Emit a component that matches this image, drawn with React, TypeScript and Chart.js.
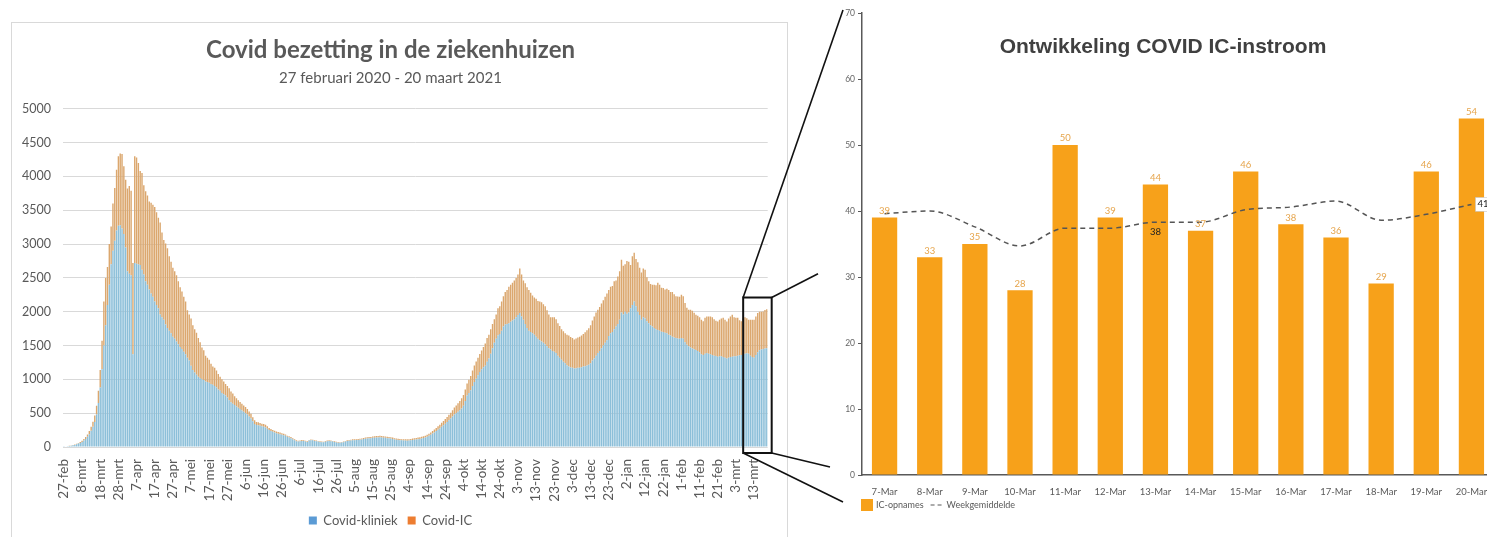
import React, { useEffect, useRef } from 'react';
import { Chart, registerables } from 'chart.js';
Chart.register(...registerables);

// ---------- Left chart: Covid bezetting ----------
const MONTHS_NL = ['jan', 'feb', 'mrt', 'apr', 'mei', 'jun', 'jul', 'aug', 'sep', 'okt', 'nov', 'dec'];
const START_DATE = Date.UTC(2020, 1, 27);
const DAY_COUNT = 388;
const dayLabels: string[] = [];
for (let i = 0; i < DAY_COUNT; i++) {
  const d = new Date(START_DATE + i * 86400000);
  dayLabels.push(`${d.getUTCDate()}-${MONTHS_NL[d.getUTCMonth()]}`);
}

const kliniek = [
  5, 8, 10, 15, 18, 25, 30, 40, 50, 60,
  75, 95, 120, 150, 190, 240, 300, 370, 480, 650,
  880, 1150, 1500, 1800, 2100, 2400, 2700, 2900, 3050, 3200,
  3270, 3280, 3230, 3150, 2950, 2600, 2560, 2540, 1370, 2720,
  2710, 2700, 2690, 2620, 2550, 2450, 2400, 2330, 2270, 2220,
  2150, 2100, 2050, 1960, 1920, 1880, 1810, 1760, 1720, 1680,
  1630, 1600, 1560, 1520, 1480, 1450, 1410, 1370, 1320, 1280,
  1200, 1140, 1100, 1070, 1040, 1020, 1000, 990, 970, 960,
  950, 930, 920, 900, 880, 850, 830, 800, 780, 760,
  730, 690, 660, 640, 620, 600, 580, 560, 540, 520,
  500, 480, 450, 420, 380, 340, 325, 320, 315, 305,
  300, 290, 270, 250, 235, 225, 215, 205, 195, 190,
  180, 175, 165, 150, 140, 130, 115, 100, 85, 80,
  85, 90, 88, 80, 75, 95, 100, 98, 90, 85,
  80, 75, 72, 70, 78, 85, 88, 86, 80, 75,
  68, 64, 62, 66, 72, 80, 88, 92, 96, 100,
  100, 102, 105, 108, 112, 118, 122, 126, 128, 130,
  135, 138, 140, 142, 143, 140, 138, 135, 130, 128,
  125, 120, 112, 106, 104, 100, 98, 96, 95, 94,
  96, 100, 104, 108, 112, 116, 120, 126, 132, 140,
  150, 165, 180, 200, 215, 235, 255, 275, 300, 320,
  345, 370, 395, 420, 450, 480, 500, 520, 545, 570,
  610, 680, 760, 800, 840, 900, 960, 1010, 1060, 1110,
  1150, 1180, 1200, 1260, 1310, 1380, 1460, 1540, 1600, 1650,
  1670, 1720, 1780, 1810, 1820, 1830, 1850, 1870, 1890, 1920,
  1950, 1980, 1930, 1880, 1820, 1760, 1720, 1700, 1680, 1660,
  1630, 1600, 1580, 1560, 1540, 1520, 1490, 1460, 1440, 1420,
  1410, 1390, 1350, 1320, 1290, 1260, 1240, 1210, 1190, 1175,
  1170, 1160, 1165, 1170, 1170, 1180, 1190, 1195, 1205, 1215,
  1240, 1280, 1310, 1350, 1390, 1420, 1460, 1500, 1540, 1580,
  1640, 1680, 1700, 1740, 1780, 1820, 1880, 1990, 1960, 2000,
  1970, 1990, 2050, 2100, 2150, 2080, 2000, 1950, 1880, 1920,
  1900, 1860, 1830, 1800, 1780, 1760, 1740, 1730, 1720, 1705,
  1700, 1690, 1680, 1660, 1650, 1630, 1620, 1610, 1605, 1600,
  1610, 1600, 1550, 1510, 1490, 1470, 1455, 1445, 1435, 1420,
  1400, 1370, 1360, 1380, 1390, 1380, 1370, 1360, 1350, 1345,
  1335, 1340, 1340, 1330, 1320, 1310, 1320, 1330, 1335, 1340,
  1340, 1350, 1355, 1360, 1370, 1380, 1385, 1380, 1350, 1330,
  1320, 1360, 1400, 1430, 1440, 1450, 1455, 1460,
];

const covidIC = [
  0, 0, 1, 2, 3, 4, 6, 8, 10, 14,
  18, 22, 28, 36, 45, 58, 75, 95, 130, 180,
  260, 420, 650, 700, 560, 600, 560, 700, 780, 900,
  1030, 1060, 1100, 1000, 1000, 1220, 1300, 1250, 1350, 1580,
  1570, 1500, 1390, 1430, 1320, 1330, 1320, 1300, 1340, 1360,
  1400, 1370, 1340, 1360, 1250, 1180, 1200, 1180, 1100, 1060,
  1020, 1000, 980, 930, 880, 850, 810, 780, 700, 680,
  700, 660, 640, 620, 570, 530, 470, 440, 380, 360,
  340, 300, 270, 270, 250, 230, 210, 200, 190, 170,
  170, 180, 160, 150, 130, 120, 110, 105, 100, 95,
  90, 80, 75, 70, 60, 55, 45, 45, 40, 40,
  40, 38, 35, 30, 30, 28, 27, 25, 25, 24,
  22, 20, 20, 18, 18, 16, 15, 14, 13, 12,
  12, 12, 11, 11, 10, 10, 11, 11, 10, 10,
  10, 10, 9, 9, 9, 10, 10, 10, 9, 9,
  9, 9, 9, 9, 10, 10, 11, 12, 12, 13,
  13, 14, 14, 15, 15, 16, 17, 18, 18, 19,
  20, 21, 22, 22, 23, 22, 22, 21, 20, 20,
  20, 19, 19, 18, 18, 18, 18, 18, 18, 19,
  19, 20, 20, 21, 22, 23, 24, 25, 26, 28,
  30, 32, 35, 38, 42, 45, 50, 55, 60, 65,
  70, 75, 80, 88, 95, 105, 115, 125, 135, 150,
  160, 170, 180, 195, 210, 230, 245, 255, 260, 265,
  275, 300, 330, 350, 350, 360, 360, 350, 360, 400,
  410, 430, 450, 480, 500, 540, 550, 560, 570, 580,
  600, 660, 620, 580, 600, 600, 600, 580, 560, 550,
  560, 560, 570, 580, 570, 560, 530, 500, 480, 500,
  510, 500, 480, 470, 450, 450, 440, 450, 460, 450,
  440, 430, 440, 450, 460, 470, 480, 500, 520, 540,
  560, 590, 620, 640, 640, 650, 660, 670, 680, 690,
  680, 690, 680, 710, 680, 700, 720, 780, 720, 700,
  780, 750, 640, 720, 720, 700, 730, 700, 700, 720,
  720, 650, 620, 610, 620, 640, 650, 700, 680, 650,
  650, 640, 660, 660, 640, 660, 640, 620, 620, 620,
  640, 630, 580, 550, 540, 560, 560, 540, 520, 520,
  520, 510, 500, 530, 540, 550, 560, 560, 540, 520,
  520, 540, 560, 580, 560, 545, 580, 600, 620, 580,
  570, 560, 520, 500, 530, 540, 520, 500, 530, 550,
  560, 570, 580, 570, 560, 555, 570, 575,
];

const leftTitle = 'Covid bezetting in de ziekenhuizen';
const leftSubtitle = '27 februari 2020 - 20 maart 2021';
const leftSeriesNames = ['Covid-kliniek', 'Covid-IC'];

// ---------- Right chart: IC-instroom ----------
const icDays = ['7-Mar', '8-Mar', '9-Mar', '10-Mar', '11-Mar', '12-Mar', '13-Mar', '14-Mar', '15-Mar', '16-Mar', '17-Mar', '18-Mar', '19-Mar', '20-Mar'];
const icOpnames = [39, 33, 35, 28, 50, 39, 44, 37, 46, 38, 36, 29, 46, 54];
const weekGemiddelde = [39.6, 40.0, 37.6, 34.7, 37.4, 37.4, 38.3, 38.3, 40.2, 40.6, 41.5, 38.6, 39.5, 41.0];
const rightTitle = 'Ontwikkeling COVID IC-instroom';
const rightSeriesNames = ['IC-opnames', 'Weekgemiddelde'];

// zoom window on the left chart (first day index, top value)
const zoomFirstIndex = 374;
const zoomTopValue = 2210;

const LEFT_POS = { x: 12, y: 23, w: 775, h: 514 };
const RIGHT_POS = { x: 820, y: 0, w: 680, h: 537 };

const rightDecor = {
  id: 'rightDecor',
  afterDraw(chart: any) {
    const ctx = chart.ctx;
    const ca = chart.chartArea;
    ctx.save();
    // title
    ctx.fillStyle = '#404040';
    ctx.font = 'bold 21px "Liberation Sans", Arial, sans-serif';
    ctx.textAlign = 'center';
    ctx.textBaseline = 'middle';
    ctx.fillText(rightTitle, (ca.left + ca.right) / 2 - 15, ca.top + 34);

    // bar value labels
    const barMeta = chart.getDatasetMeta(0);
    ctx.font = '9.5px Lato, sans-serif';
    ctx.fillStyle = '#e6a54c';
    ctx.textBaseline = 'bottom';
    barMeta.data.forEach((el: any, i: number) => {
      ctx.fillText(String(icOpnames[i]), el.x, el.y - 2);
    });

    // line labels
    const lineMeta = chart.getDatasetMeta(1);
    const p6 = lineMeta.data[6];
    ctx.fillStyle = '#222';
    ctx.textBaseline = 'middle';
    ctx.fillText(String(Math.round(weekGemiddelde[6])), p6.x, p6.y + 10);
    const p13 = lineMeta.data[13];
    ctx.fillStyle = '#fff';
    ctx.fillRect(p13.x + 4, p13.y - 7, 20, 14);
    ctx.strokeStyle = '#bbb';
    ctx.lineWidth = 0.5;
    ctx.strokeRect(p13.x + 4, p13.y - 7, 20, 14);
    ctx.fillStyle = '#222';
    ctx.textAlign = 'left';
    ctx.fillText(String(Math.round(weekGemiddelde[13])), p13.x + 6, p13.y);

    // legend
    const ly = ca.bottom + 30;
    let lx = ca.left - 1;
    ctx.fillStyle = '#f7a11a';
    ctx.fillRect(lx, ly - 6, 12, 12);
    lx += 15;
    ctx.font = '9px Lato, sans-serif';
    ctx.fillStyle = '#595959';
    ctx.textAlign = 'left';
    ctx.fillText(rightSeriesNames[0], lx, ly);
    lx += ctx.measureText(rightSeriesNames[0]).width + 7;
    ctx.strokeStyle = '#595959';
    ctx.lineWidth = 1.2;
    ctx.setLineDash([4, 3]);
    ctx.beginPath();
    ctx.moveTo(lx, ly);
    ctx.lineTo(lx + 11, ly);
    ctx.stroke();
    ctx.setLineDash([]);
    lx += 16;
    ctx.fillText(rightSeriesNames[1], lx, ly);
    ctx.restore();
  },
};

export default function App() {
  const leftRef = useRef<HTMLCanvasElement>(null);
  const rightRef = useRef<HTMLCanvasElement>(null);
  const overlayRef = useRef<HTMLCanvasElement>(null);

  useEffect(() => {
    const fontL = 'Lato, "Open Sans", sans-serif';
    const left = new Chart(leftRef.current!, {
      type: 'bar',
      data: {
        labels: dayLabels,
        datasets: [
          { label: leftSeriesNames[0], data: kliniek, backgroundColor: '#8cbfd9', barPercentage: 0.78, categoryPercentage: 1 },
          { label: leftSeriesNames[1], data: covidIC, backgroundColor: '#dba76e', barPercentage: 0.78, categoryPercentage: 1 },
        ],
      },
      options: {
        responsive: false,
        animation: false,
        layout: { padding: { left: 0, right: 18, top: 0, bottom: 0 } },
        plugins: {
          title: {
            display: true,
            text: leftTitle,
            color: '#595959',
            font: { family: fontL, size: 24, weight: 'bold' },
            padding: { top: 13, bottom: 2 },
          },
          subtitle: {
            display: true,
            text: leftSubtitle,
            color: '#595959',
            font: { family: fontL, size: 15 },
            padding: { top: 2, bottom: 22 },
          },
          legend: {
            position: 'bottom',
            labels: {
              boxWidth: 8,
              boxHeight: 8,
              padding: 10,
              color: '#595959',
              font: { family: fontL, size: 13 },
              generateLabels: (chart: any) =>
                chart.data.datasets.map((ds: any, i: number) => ({
                  text: ds.label,
                  fillStyle: ['#5b9bd5', '#ed7d31'][i],
                  strokeStyle: 'rgba(0,0,0,0)',
                  lineWidth: 0,
                  hidden: false,
                  datasetIndex: i,
                  fontColor: '#595959',
                })),
            },
          },
          tooltip: { enabled: false },
        },
        scales: {
          x: {
            stacked: true,
            grid: { display: false },
            border: { display: false },
            ticks: {
              autoSkip: false,
              maxRotation: 90,
              minRotation: 90,
              padding: 4,
              color: '#595959',
              font: { family: fontL, size: 13.5 },
              callback: (_v: any, i: number) => (i % 10 === 0 ? dayLabels[i] : ''),
            },
            afterFit: (s: any) => { s.height = 57; },
          },
          y: {
            stacked: true,
            min: 0,
            max: 5000,
            ticks: {
              stepSize: 500,
              padding: 12,
              color: '#595959',
              font: { family: fontL, size: 12.5 },
              callback: (v: any) => String(v),
            },
            grid: { color: '#d9d9d9', drawTicks: false },
            border: { display: false },
            afterFit: (s: any) => { s.width = 51; },
          },
        },
      } as any,
    });

    const fontR = 'Lato, Roboto, sans-serif';
    const right = new Chart(rightRef.current!, {
      type: 'bar',
      data: {
        labels: icDays,
        datasets: [
          { type: 'bar', label: rightSeriesNames[0], data: icOpnames, backgroundColor: '#f7a11a', barPercentage: 0.56, categoryPercentage: 1, order: 2 } as any,
          { type: 'line', label: rightSeriesNames[1], data: weekGemiddelde, borderColor: '#555555', borderWidth: 1.5, borderDash: [5, 4], pointRadius: 0, cubicInterpolationMode: 'monotone', fill: false, order: 1 } as any,
        ],
      },
      options: {
        responsive: false,
        animation: false,
        layout: { padding: { left: 0, right: 6, top: 13, bottom: 42 } },
        plugins: { legend: { display: false }, title: { display: false }, tooltip: { enabled: false } },
        scales: {
          x: {
            grid: { display: false },
            border: { color: '#595959', width: 1.5 },
            ticks: { padding: 3, color: '#595959', font: { family: fontR, size: 9.5 } },
            afterFit: (s: any) => { s.height = 20; },
          },
          y: {
            min: 0,
            max: 70,
            ticks: { stepSize: 10, padding: 3, color: '#666666', font: { family: fontR, size: 8.5 } },
            grid: { drawOnChartArea: false, drawTicks: true, tickLength: 4, color: '#595959' },
            border: { color: '#595959', width: 1.5 },
            afterFit: (s: any) => { s.width = 42; },
          },
        },
      } as any,
      plugins: [rightDecor],
    });

    // zoom connector overlay
    const oc = overlayRef.current!;
    const octx = oc.getContext('2d')!;
    octx.clearRect(0, 0, oc.width, oc.height);
    const lxs: any = left.scales.x;
    const lys: any = left.scales.y;
    const rys: any = right.scales.y;
    const rca = right.chartArea;
    const rectL = LEFT_POS.x + lxs.getPixelForValue(zoomFirstIndex);
    const rectR = LEFT_POS.x + left.chartArea.right + 4;
    const rectT = LEFT_POS.y + lys.getPixelForValue(zoomTopValue);
    const rectB = LEFT_POS.y + lys.getPixelForValue(0) + 6;
    const axX = RIGHT_POS.x + rca.left;
    octx.strokeStyle = '#111';
    octx.lineWidth = 2;
    octx.strokeRect(rectL, rectT, rectR - rectL, rectB - rectT);
    octx.lineWidth = 1.6;
    const seg = (x1: number, y1: number, x2: number, y2: number) => {
      octx.beginPath();
      octx.moveTo(x1, y1);
      octx.lineTo(x2, y2);
      octx.stroke();
    };
    seg(rectL, rectT, axX - 19, RIGHT_POS.y + rys.getPixelForValue(70) - 3);
    seg(rectR, rectT, axX - 44, RIGHT_POS.y + rys.getPixelForValue(30.5));
    seg(rectR, rectB, axX - 32, RIGHT_POS.y + rys.getPixelForValue(0) - 8);
    seg(rectL, rectB, axX - 19, RIGHT_POS.y + rys.getPixelForValue(0) + 27);

    return () => {
      left.destroy();
      right.destroy();
    };
  }, []);

  return (
    <div style={{ position: 'absolute', left: 0, top: 0, width: 1487, height: 537, overflow: 'hidden', background: '#fff' }}>
      <div style={{ position: 'absolute', left: LEFT_POS.x - 1, top: LEFT_POS.y - 1, width: LEFT_POS.w + 2, height: 560, border: '1px solid #d9d9d9', boxSizing: 'border-box' }} />
      <canvas ref={leftRef} width={LEFT_POS.w} height={LEFT_POS.h} style={{ position: 'absolute', left: LEFT_POS.x, top: LEFT_POS.y, width: LEFT_POS.w, height: LEFT_POS.h }} />
      <canvas ref={rightRef} width={RIGHT_POS.w} height={RIGHT_POS.h} style={{ position: 'absolute', left: RIGHT_POS.x, top: RIGHT_POS.y, width: RIGHT_POS.w, height: RIGHT_POS.h }} />
      <canvas ref={overlayRef} width={1487} height={537} style={{ position: 'absolute', left: 0, top: 0, width: 1487, height: 537, pointerEvents: 'none' }} />
    </div>
  );
}
